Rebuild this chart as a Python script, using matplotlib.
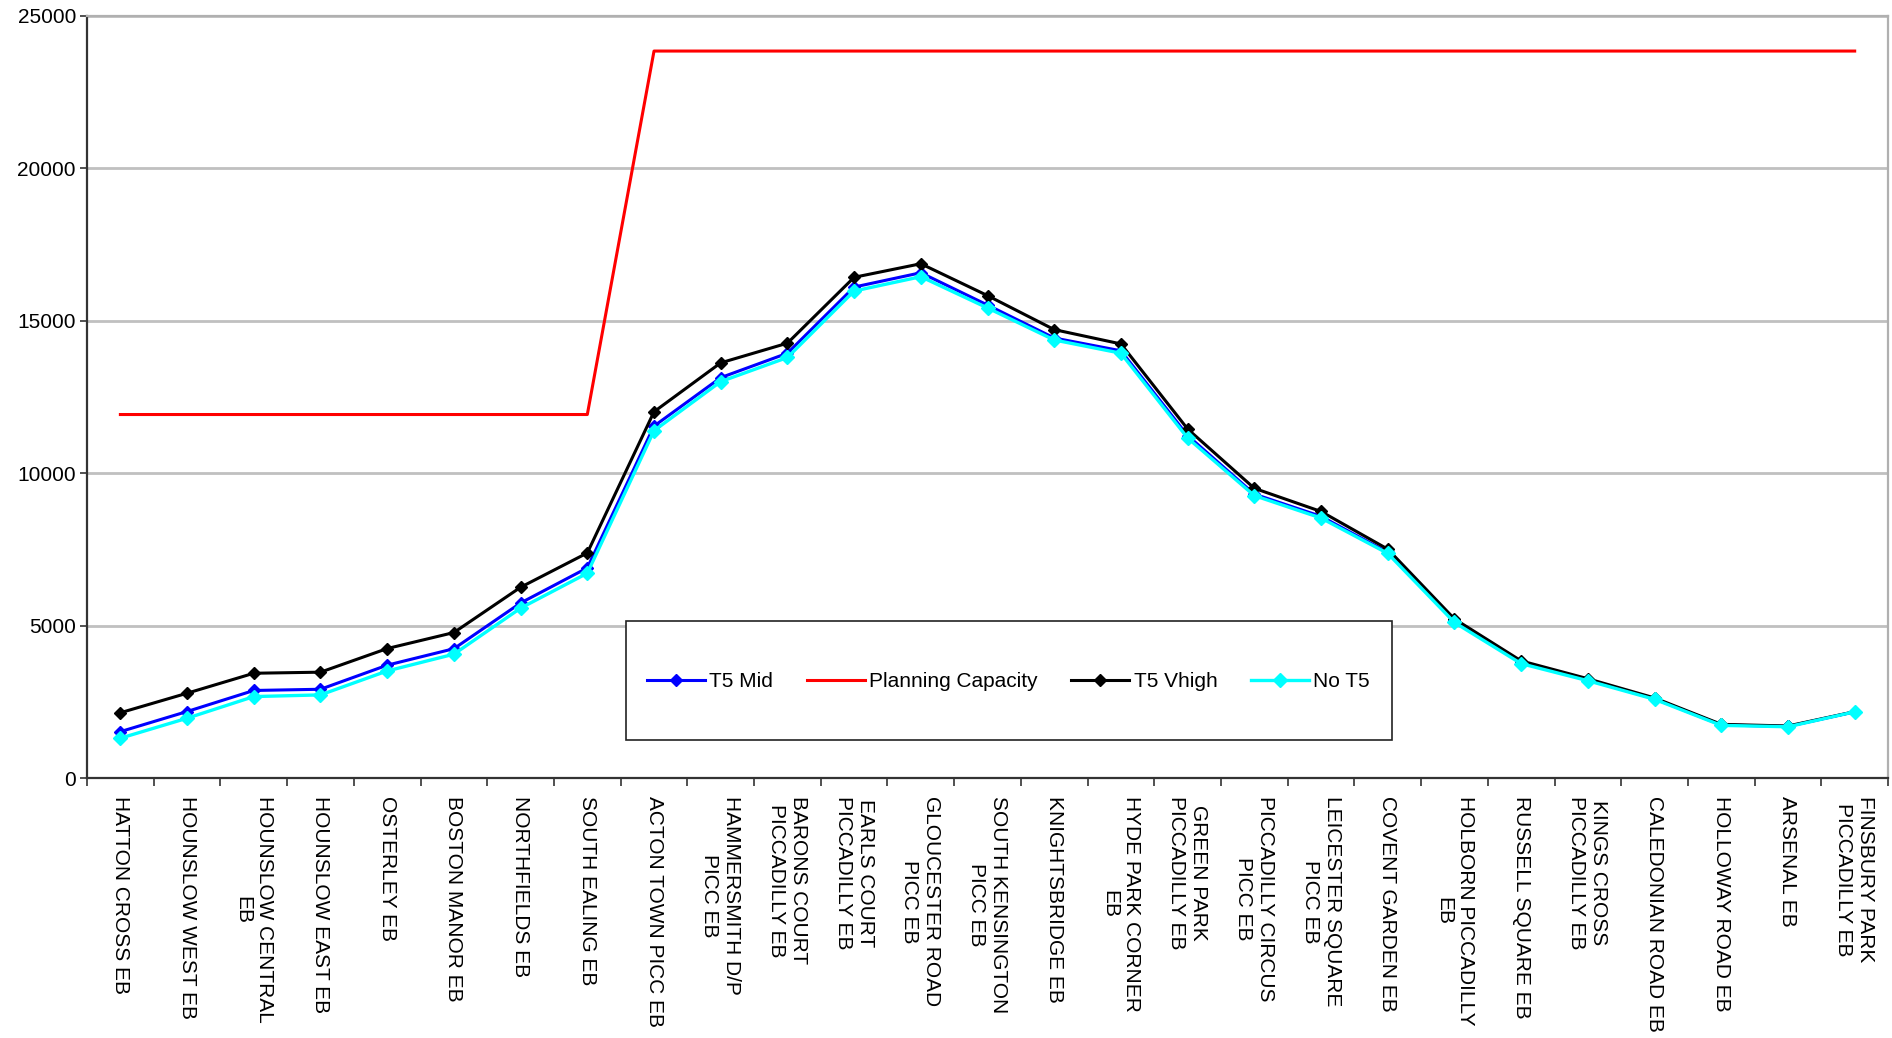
import numpy as np
import matplotlib
matplotlib.use("Agg")
import matplotlib.pyplot as plt
from matplotlib.patches import Rectangle
from matplotlib.ticker import FixedLocator, NullFormatter

plt.rcParams["font.family"] = ["Liberation Sans", "DejaVu Sans"]

stations = [
    "HATTON CROSS EB", "HOUNSLOW WEST EB", "HOUNSLOW CENTRAL\nEB",
    "HOUNSLOW EAST EB", "OSTERLEY EB", "BOSTON MANOR EB", "NORTHFIELDS EB",
    "SOUTH EALING EB", "ACTON TOWN PICC EB", "HAMMERSMITH D/P\nPICC EB",
    "BARONS COURT\nPICCADILLY EB", "EARLS COURT\nPICCADILLY EB",
    "GLOUCESTER ROAD\nPICC EB", "SOUTH KENSINGTON\nPICC EB",
    "KNIGHTSBRIDGE EB", "HYDE PARK CORNER\nEB", "GREEN PARK\nPICCADILLY EB",
    "PICCADILLY CIRCUS\nPICC EB", "LEICESTER SQUARE\nPICC EB",
    "COVENT GARDEN EB", "HOLBORN PICCADILLY\nEB", "RUSSELL SQUARE EB",
    "KINGS CROSS\nPICCADILLY EB", "CALEDONIAN ROAD EB", "HOLLOWAY ROAD EB",
    "ARSENAL EB", "FINSBURY PARK\nPICCADILLY EB",
]

t5_mid = [1530, 2190, 2880, 2920, 3710, 4250, 5750, 6900, 11550, 13140,
          13940, 16110, 16580, 15520, 14440, 14020, 11240, 9320, 8590,
          7410, 5180, 3800, 3230, 2610, 1750, 1700, 2180]
t5_vhigh = [2150, 2790, 3445, 3480, 4255, 4780, 6265, 7390, 12020, 13625,
            14270, 16430, 16875, 15830, 14715, 14245, 11455, 9510, 8750,
            7515, 5225, 3850, 3265, 2635, 1770, 1715, 2185]
no_t5 = [1315, 1970, 2680, 2735, 3520, 4070, 5580, 6725, 11400, 13010,
         13800, 15980, 16450, 15425, 14375, 13940, 11160, 9270, 8535,
         7375, 5110, 3760, 3200, 2590, 1735, 1690, 2180]
planning_capacity = [11930] * 8 + [23850] * 19

x = np.arange(len(stations))

fig = plt.figure(figsize=(18.92, 10.38), dpi=100)
ax = fig.add_axes([0.046, 0.2502, 0.9519, 0.7344])

ax.plot(x, t5_mid, color="#0000FF", lw=2.2, marker="D", ms=6.5,
        label="T5 Mid", zorder=3)
ax.plot(x, planning_capacity, color="#FF0000", lw=2.2,
        label="Planning Capacity", zorder=3)
ax.plot(x, t5_vhigh, color="black", lw=2.2, marker="D", ms=6.5,
        label="T5 Vhigh", zorder=3)
ax.plot(x, no_t5, color="#00FFFF", lw=2.4, marker="D", ms=7,
        label="No T5", zorder=4)

ax.set_xlim(-0.5, len(stations) - 0.5)
ax.set_ylim(0, 25000)
ax.set_yticks(np.arange(0, 25001, 5000))
ax.yaxis.grid(True, color="#c0c0c0", lw=2)
ax.set_axisbelow(True)

ax.set_xticks(x)
ax.set_xticklabels(stations, rotation=-90, fontsize=15,
                   va="top", ha="center", multialignment="center")
ax.xaxis.set_minor_locator(FixedLocator(np.arange(-0.5, len(stations), 1.0)))
ax.xaxis.set_minor_formatter(NullFormatter())
ax.tick_params(axis="x", which="major", length=0, pad=13)
ax.tick_params(axis="x", which="minor", length=6, width=1.2,
               direction="out", color="#333333")
ax.tick_params(axis="y", length=5, width=1.2, direction="out",
               color="#333333", labelsize=15, pad=3)

for side in ("left", "bottom"):
    ax.spines[side].set_color("#333333")
    ax.spines[side].set_linewidth(1.6)
for side in ("top", "right"):
    ax.spines[side].set_color("#b0b0b0")
    ax.spines[side].set_linewidth(1.6)

# legend sits in a tall boxed area over the lower middle of the plot
box = Rectangle((0.3309, 0.287), 0.4049, 0.1146, transform=fig.transFigure,
                facecolor="white", edgecolor="#222222", lw=1.2, zorder=5)
fig.patches.append(box)
leg = fig.legend(loc="center", bbox_to_anchor=(0.533, 0.3435), ncol=4,
                 frameon=False, fontsize=15, handlelength=2.8,
                 handletextpad=0.2, columnspacing=1.6)
leg.set_zorder(6)

fig.savefig("out.png", dpi=100, facecolor="white")
